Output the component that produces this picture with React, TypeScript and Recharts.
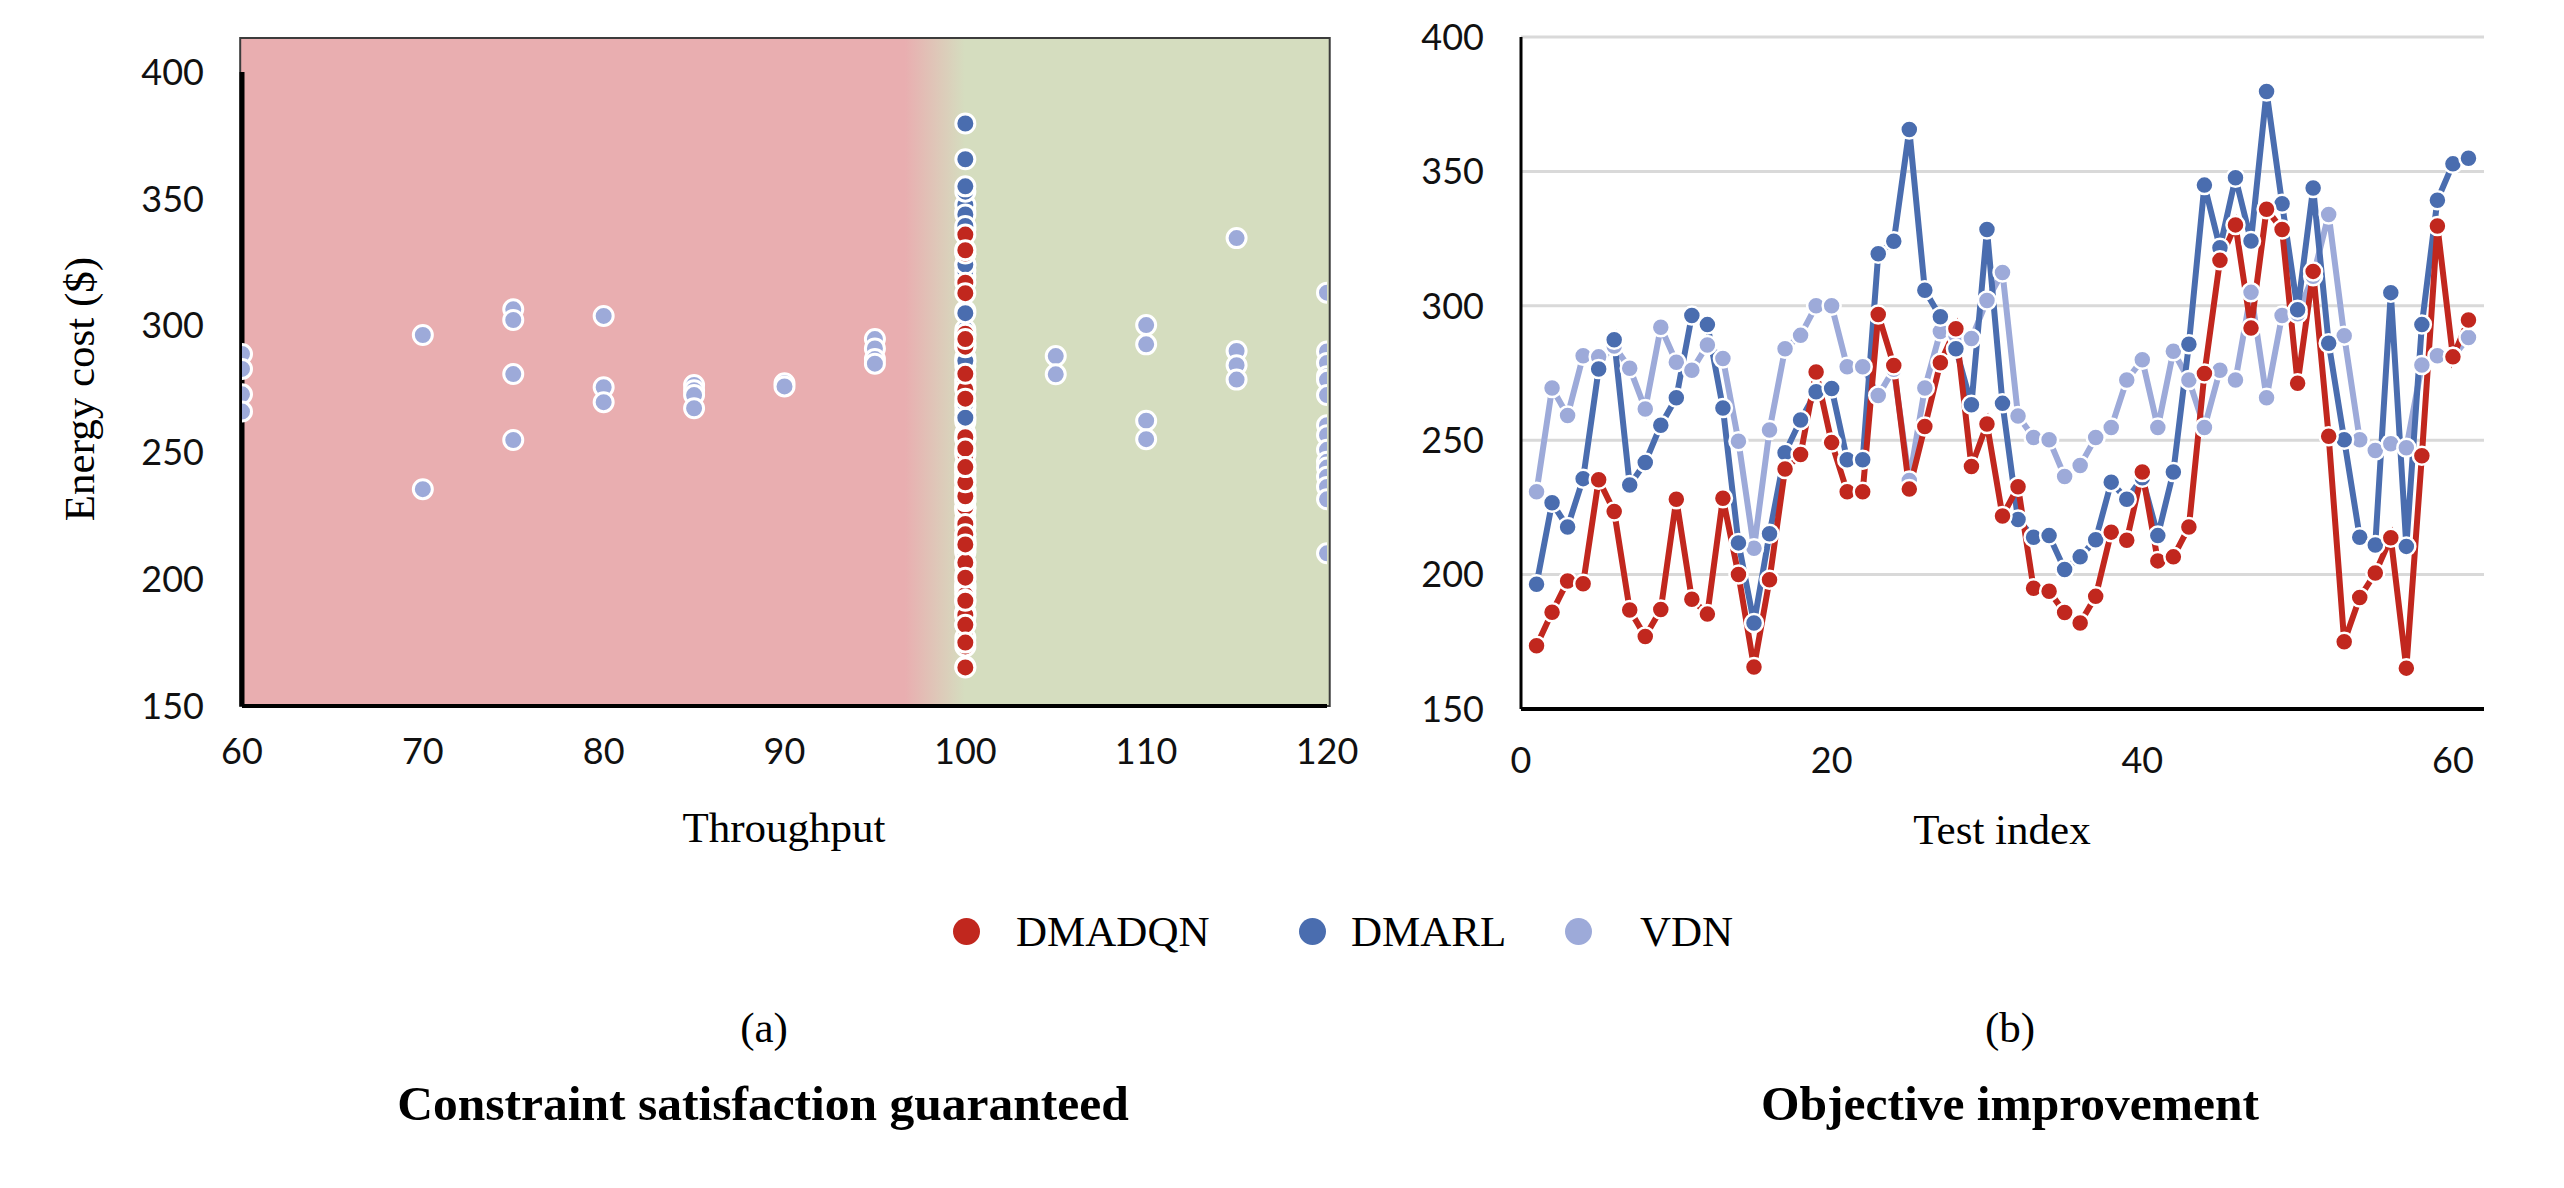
import React from 'react';
import {
  ScatterChart,
  Scatter,
  LineChart,
  Line,
  XAxis,
  YAxis,
  CartesianGrid,
  ReferenceArea,
} from 'recharts';

// ---- Data -------------------------------------------------------------

// Test indices 1..61
const testIndex: number[] = Array.from({ length: 61 }, (_, i) => i + 1);

// Energy cost ($) per test
const dmadqnCost: number[] = [
  173.5, 186, 197.6, 196.6, 235.3, 223.5, 186.8, 177, 187, 228,
  190.8, 185.3, 228.4, 200, 165.6, 198.1, 239.3, 244.7, 275.4, 249.1,
  230.8, 230.8, 296.8, 277.8, 231.8, 255.1, 278.8, 291.5, 240.2, 256,
  221.8, 232.7, 194.9, 193.8, 185.9, 182, 191.9, 215.8, 212.8, 238.2,
  205.1, 206.6, 217.7, 274.8, 316.9, 330.1, 291.7, 335.9, 328.4, 271.2,
  312.8, 251.5, 175, 191.5, 200.6, 213.7, 165.2, 244.2, 329.7, 281, 294.7,
];

const dmarlCost: number[] = [
  196.4, 226.7, 217.7, 235.7, 276.5, 287.4, 233.3, 241.7, 255.6, 265.8,
  296.4, 293, 262, 211.8, 182, 215.2, 245.3, 257.5, 268, 269.2,
  242.7, 242.7, 319.4, 324, 365.6, 305.8, 295.9, 284, 263.2, 328.4,
  263.7, 220.5, 213.9, 214.5, 201.9, 206.6, 213, 234.4, 228, 236,
  214.5, 238.2, 285.7, 344.9, 321.6, 347.6, 324.1, 379.7, 338, 298.5,
  343.8, 286.1, 250.2, 213.9, 211, 304.9, 210.5, 293, 339.3, 352.8, 354.9,
];

const vdnCost: number[] = [
  230.8, 269.4, 259.2, 281.4, 281, 285, 276.8, 261.6, 292, 279,
  276, 285.4, 280.4, 249.6, 209.8, 253.8, 284, 289, 300, 300,
  277.3, 277.3, 266.6, 276.4, 235, 269.4, 290.4, 289, 287.8, 302,
  312.4, 259, 251, 250.2, 236.5, 240.6, 251, 254.7, 272.4, 279.9,
  254.7, 283.1, 272.4, 254.7, 276, 272.4, 305, 265.8, 296.4, 297,
  311, 334, 288.9, 250.2, 246.2, 248.7, 247.2, 278, 281.4, 281, 288.2,
];

// DMADQN and DMARL always reach the required throughput
const guaranteedThroughput = 100;

// VDN results on the throughput / cost plane
const vdnThroughput: number[] = [
  60, 60, 60, 60,
  70, 70,
  75, 75, 75, 75,
  80, 80, 80,
  85, 85, 85, 85,
  90, 90,
  95, 95, 95, 95,
  105, 105,
  110, 110, 110, 110,
  115, 115, 115, 115,
  120, 120, 120, 120, 120, 120, 120, 120, 120, 120, 120, 120, 120, 120, 120,
];
const vdnScatterCost: number[] = [
  288.8, 282.9, 272.9, 266.1,
  296.3, 235.5,
  306.4, 302.2, 280.9, 254.9,
  303.8, 275.7, 269.8,
  276.6, 274.5, 272.6, 267.4,
  277.3, 276,
  294.7, 291, 286.8, 285,
  288, 280.8,
  300.2, 292.6, 262.5, 255.2,
  334.5, 290, 284.4, 278.7,
  313, 289.8, 285.3, 280, 278.6, 272.6, 260.7, 256.8, 251, 246.3, 244, 240.4, 236.4, 231.5, 210.2,
];

// Axis ticks
const costTicks: number[] = [150, 200, 250, 300, 350, 400];
const throughputTicks: number[] = [60, 70, 80, 90, 100, 110, 120];
const testTicks: number[] = [0, 20, 40, 60];

// Series names
const seriesNames = { dmadqn: 'DMADQN', dmarl: 'DMARL', vdn: 'VDN' };

// ---- Styling ------------------------------------------------------------

const COLORS = {
  dmadqn: '#C1271E',
  dmarl: '#4A6DAF',
  vdn: '#9DAAD9',
  pink: '#E9AEB0',
  green: '#D5DDBF',
};

const SERIF = '"Liberation Serif", "Times New Roman", serif';
const TICK_FONT = 'Lato, "Open Sans", sans-serif';
const tickStyle = { fontSize: 36, fontFamily: TICK_FONT, fill: '#111' };

// ---- Derived tables -----------------------------------------------------

const lineData = testIndex.map((t, i) => ({
  test: t,
  dmadqn: dmadqnCost[i],
  dmarl: dmarlCost[i],
  vdn: vdnCost[i],
}));

const dmadqnPoints = dmadqnCost.map((c) => ({ x: guaranteedThroughput, y: c }));
const dmarlPoints = dmarlCost.map((c) => ({ x: guaranteedThroughput, y: c }));
const vdnPoints = vdnThroughput.map((x, i) => ({ x, y: vdnScatterCost[i] }));

const dotShape = (color: string) => (props: any) => (
  <circle cx={props.cx} cy={props.cy} r={9.5} fill={color} stroke="#fff" strokeWidth={3} />
);

const lineDot = (color: string) => ({ r: 9, fill: color, stroke: '#fff', strokeWidth: 2.5 });

const centered = (x: number, y: number, extra: React.CSSProperties = {}): React.CSSProperties => ({
  position: 'absolute',
  left: x,
  top: y,
  transform: 'translate(-50%, -50%)',
  whiteSpace: 'nowrap',
  lineHeight: 1,
  fontFamily: SERIF,
  color: '#000',
  ...extra,
});

// ---- Panels -------------------------------------------------------------

function ConstraintPanel() {
  return (
    <div style={{ position: 'absolute', left: 0, top: 0 }}>
      <ScatterChart width={1400} height={800} margin={{ top: 72, right: 73, bottom: 0, left: 0 }}>
        <ReferenceArea
          x1={59.9}
          x2={120.15}
          y1={150}
          y2={413.4}
          ifOverflow="visible"
          fill="url(#zoneFill)"
          fillOpacity={1}
          stroke="#3c3c3c"
          strokeWidth={2}
        />
        <XAxis
          type="number"
          dataKey="x"
          domain={[60, 120]}
          ticks={throughputTicks}
          allowDataOverflow
          height={94}
          axisLine={{ stroke: '#000', strokeWidth: 4 }}
          tickLine={false}
          tickSize={0}
          tickMargin={32}
          tick={tickStyle}
        />
        <YAxis
          type="number"
          dataKey="y"
          domain={[150, 400]}
          ticks={costTicks}
          allowDataOverflow
          width={242}
          axisLine={{ stroke: '#000', strokeWidth: 5 }}
          tickLine={false}
          tickSize={0}
          tickMargin={38}
          tick={tickStyle}
        />
        <Scatter name={seriesNames.vdn} data={vdnPoints} shape={dotShape(COLORS.vdn)} isAnimationActive={false} />
        <Scatter name={seriesNames.dmarl} data={dmarlPoints} shape={dotShape(COLORS.dmarl)} isAnimationActive={false} />
        <Scatter name={seriesNames.dmadqn} data={dmadqnPoints} shape={dotShape(COLORS.dmadqn)} isAnimationActive={false} />
      </ScatterChart>
    </div>
  );
}

function ObjectivePanel() {
  return (
    <div style={{ position: 'absolute', left: 1300, top: 0 }}>
      <LineChart width={1264} height={800} data={lineData} margin={{ top: 37, right: 80, bottom: 0, left: 0 }}>
        <CartesianGrid vertical={false} stroke="#D9D9D9" strokeWidth={3} />
        <XAxis
          type="number"
          dataKey="test"
          domain={[0, 62]}
          ticks={testTicks}
          height={91}
          axisLine={{ stroke: '#000', strokeWidth: 4 }}
          tickLine={false}
          tickSize={0}
          tickMargin={38}
          tick={tickStyle}
        />
        <YAxis
          type="number"
          domain={[150, 400]}
          ticks={costTicks}
          width={221}
          axisLine={{ stroke: '#000', strokeWidth: 3 }}
          tickLine={false}
          tickSize={0}
          tickMargin={37}
          tick={tickStyle}
        />
        <Line
          dataKey="vdn"
          name={seriesNames.vdn}
          stroke={COLORS.vdn}
          strokeWidth={6}
          dot={lineDot(COLORS.vdn)}
          activeDot={false}
          isAnimationActive={false}
        />
        <Line
          dataKey="dmarl"
          name={seriesNames.dmarl}
          stroke={COLORS.dmarl}
          strokeWidth={6}
          dot={lineDot(COLORS.dmarl)}
          activeDot={false}
          isAnimationActive={false}
        />
        <Line
          dataKey="dmadqn"
          name={seriesNames.dmadqn}
          stroke={COLORS.dmadqn}
          strokeWidth={6}
          dot={lineDot(COLORS.dmadqn)}
          activeDot={false}
          isAnimationActive={false}
        />
      </LineChart>
    </div>
  );
}

function LegendRow() {
  const items = [
    { name: seriesNames.dmadqn, color: COLORS.dmadqn, dotX: 966, textX: 1016 },
    { name: seriesNames.dmarl, color: COLORS.dmarl, dotX: 1312, textX: 1351 },
    { name: seriesNames.vdn, color: COLORS.vdn, dotX: 1578, textX: 1640 },
  ];
  return (
    <>
      {items.map((it) => (
        <React.Fragment key={it.name}>
          <div
            style={{
              position: 'absolute',
              left: it.dotX - 13.5,
              top: 931 - 13.5,
              width: 27,
              height: 27,
              borderRadius: '50%',
              background: it.color,
            }}
          />
          <div
            style={{
              position: 'absolute',
              left: it.textX,
              top: 931,
              transform: 'translateY(-50%)',
              fontFamily: SERIF,
              fontSize: 43,
              lineHeight: 1,
              whiteSpace: 'nowrap',
              color: '#000',
            }}
          >
            {it.name}
          </div>
        </React.Fragment>
      ))}
    </>
  );
}

export default function App() {
  return (
    <div
      style={{
        position: 'absolute',
        left: 0,
        top: 0,
        width: 2564,
        height: 1188,
        background: '#fff',
        overflow: 'hidden',
      }}
    >
      <svg width={0} height={0} style={{ position: 'absolute' }}>
        <defs>
          <linearGradient id="zoneFill" x1="0" y1="0" x2="1" y2="0">
            <stop offset="0.61" stopColor={COLORS.pink} />
            <stop offset="0.665" stopColor={COLORS.green} />
          </linearGradient>
        </defs>
      </svg>

      <ConstraintPanel />
      <ObjectivePanel />

      <div style={centered(79, 389, { fontSize: 43, transform: 'translate(-50%, -50%) rotate(-90deg)' })}>
        Energy cost ($)
      </div>
      <div style={centered(784, 827, { fontSize: 43 })}>Throughput</div>
      <div style={centered(2002, 829, { fontSize: 43 })}>Test index</div>

      <LegendRow />

      <div style={centered(764, 1027, { fontSize: 43 })}>(a)</div>
      <div style={centered(2010, 1027, { fontSize: 43 })}>(b)</div>
      <div style={centered(763, 1104, { fontSize: 49.5, fontWeight: 'bold' })}>
        Constraint satisfaction guaranteed
      </div>
      <div style={centered(2010, 1104, { fontSize: 49.5, fontWeight: 'bold' })}>Objective improvement</div>
    </div>
  );
}
